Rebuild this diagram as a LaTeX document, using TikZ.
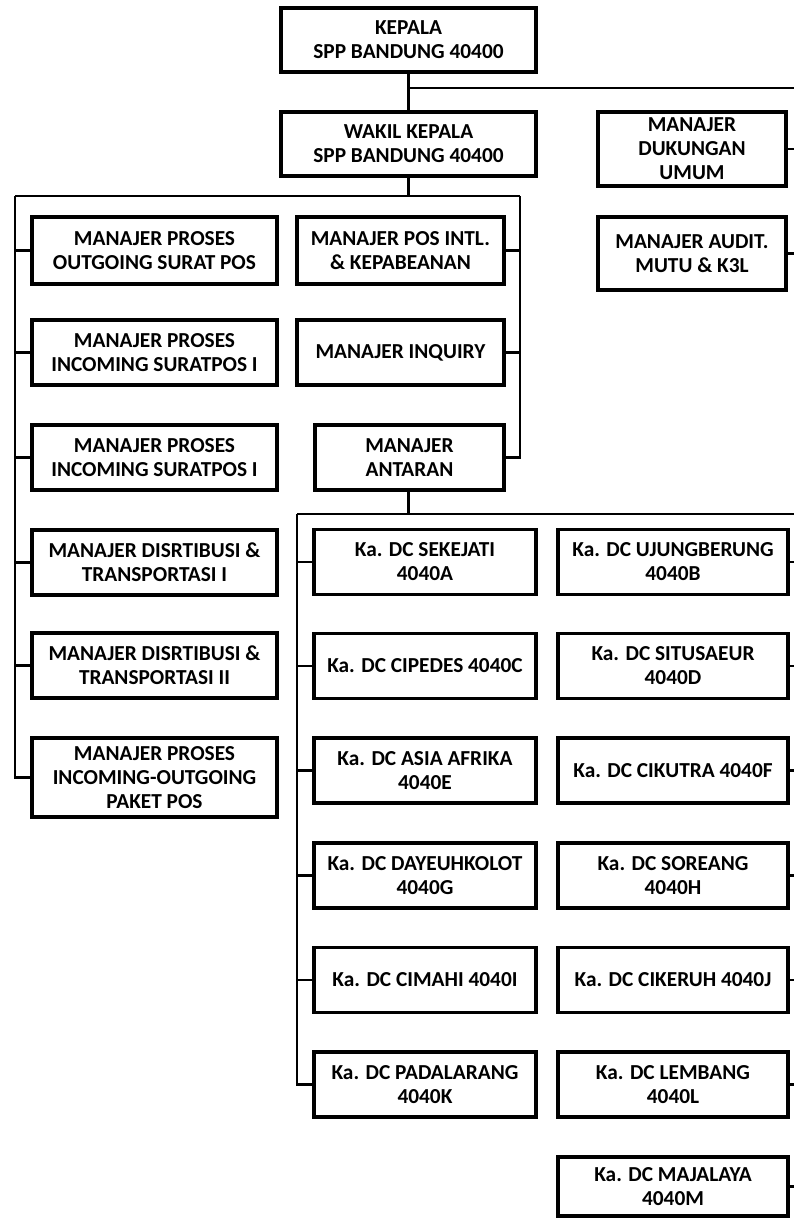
\documentclass[tikz,border=0pt]{standalone}
\usepackage{fontspec}
\setmainfont{Carlito}
\begin{document}
\begin{tikzpicture}[x=0.75pt,y=-0.75pt,
  box/.style={draw=black,line width=2.3pt,fill=white,align=center,inner sep=0pt,
    font=\bfseries\fontsize{16pt}{18pt}\selectfont},
  conn/.style={draw=black,line width=1.6pt}]
\useasboundingbox (0,0) rectangle (794,1218);
% top level
\node[box,minimum width=255*0.75pt,minimum height=64*0.75pt] (kepala) at (408.5,40) {KEPALA\\SPP BANDUNG 40400};
\node[box,minimum width=255*0.75pt,minimum height=64*0.75pt] (wakil) at (408.5,144) {WAKIL KEPALA\\SPP BANDUNG 40400};
\node[box,minimum width=188*0.75pt,minimum height=74*0.75pt] (dukungan) at (692,149) {MANAJER\\DUKUNGAN\\UMUM};
\node[box,minimum width=188*0.75pt,minimum height=73*0.75pt] (audit) at (692,253.5) {MANAJER AUDIT.\\MUTU \& K3L};
% left column
\node[box,minimum width=245*0.75pt,minimum height=67*0.75pt] (l1) at (154.5,250.5) {MANAJER PROSES\\OUTGOING SURAT POS};
\node[box,minimum width=245*0.75pt,minimum height=65*0.75pt] (l2) at (154.5,352.5) {MANAJER PROSES\\INCOMING SURATPOS I};
\node[box,minimum width=245*0.75pt,minimum height=65*0.75pt] (l3) at (154.5,457.5) {MANAJER PROSES\\INCOMING SURATPOS I};
\node[box,minimum width=245*0.75pt,minimum height=65*0.75pt] (l4) at (154.5,562.5) {MANAJER DISRTIBUSI \&\\TRANSPORTASI I};
\node[box,minimum width=245*0.75pt,minimum height=65*0.75pt] (l5) at (154.5,665.5) {MANAJER DISRTIBUSI \&\\TRANSPORTASI II};
\node[box,minimum width=245*0.75pt,minimum height=79*0.75pt] (l6) at (154.5,777.5) {MANAJER PROSES\\INCOMING-OUTGOING\\PAKET POS};
% middle column
\node[box,minimum width=207*0.75pt,minimum height=67*0.75pt] (m1) at (400.5,250.5) {MANAJER POS INTL.\\\& KEPABEANAN};
\node[box,minimum width=207*0.75pt,minimum height=65*0.75pt] (m2) at (400.5,352.5) {MANAJER INQUIRY};
\node[box,minimum width=189*0.75pt,minimum height=65*0.75pt] (m3) at (409.5,457.5) {MANAJER\\ANTARAN};
% DC left
\node[box,minimum width=222*0.75pt,minimum height=65*0.75pt] (dcA) at (425,562) {Ka. DC SEKEJATI\\4040A};
\node[box,minimum width=222*0.75pt,minimum height=65*0.75pt] (dcC) at (425,666) {Ka. DC CIPEDES 4040C};
\node[box,minimum width=222*0.75pt,minimum height=65*0.75pt] (dcE) at (425,770.5) {Ka. DC ASIA AFRIKA\\4040E};
\node[box,minimum width=222*0.75pt,minimum height=65*0.75pt] (dcG) at (425,875.5) {Ka. DC DAYEUHKOLOT\\4040G};
\node[box,minimum width=222*0.75pt,minimum height=65*0.75pt] (dcI) at (425,980) {Ka. DC CIMAHI 4040I};
\node[box,minimum width=222*0.75pt,minimum height=65*0.75pt] (dcK) at (425,1084.5) {Ka. DC PADALARANG\\4040K};
% DC right
\node[box,minimum width=230*0.75pt,minimum height=65*0.75pt] (dcB) at (673,562) {Ka. DC UJUNGBERUNG\\4040B};
\node[box,minimum width=230*0.75pt,minimum height=65*0.75pt] (dcD) at (673,666) {Ka. DC SITUSAEUR\\4040D};
\node[box,minimum width=230*0.75pt,minimum height=65*0.75pt] (dcF) at (673,770.5) {Ka. DC CIKUTRA 4040F};
\node[box,minimum width=230*0.75pt,minimum height=65*0.75pt] (dcH) at (673,875.5) {Ka. DC SOREANG\\4040H};
\node[box,minimum width=230*0.75pt,minimum height=65*0.75pt] (dcJ) at (673,980) {Ka. DC CIKERUH 4040J};
\node[box,minimum width=230*0.75pt,minimum height=65*0.75pt] (dcL) at (673,1084.5) {Ka. DC LEMBANG\\4040L};
\node[box,minimum width=230*0.75pt,minimum height=59*0.75pt] (dcM) at (673,1186.5) {Ka. DC MAJALAYA\\4040M};
% coordinates
\coordinate (kb) at (408.5,88);
\coordinate (kr) at (794,88);
\coordinate (wb) at (408.5,196);
\coordinate (wl) at (15,196);
\coordinate (wr) at (520,196);
\coordinate (ab) at (408.5,514);
\coordinate (al) at (297,514);
\coordinate (ar) at (794,514);
% connectors
\draw[conn] (kepala.south) -- (wakil.north);
\draw[conn] (kb) -- (kr);
\draw[conn] (dukungan.east) -- (794,149);
\draw[conn] (audit.east) -- (794,253.5);
\draw[conn] (wakil.south) -- (wb);
\draw[conn] (wl) -- (wr);
\draw[conn] (wl) |- (l6.west);
\foreach \n in {l1,l2,l3,l4,l5} \draw[conn] (\n.west) -- (15,0 |- \n.west);
\draw[conn] (wr) |- (m3.east);
\foreach \n in {m1,m2} \draw[conn] (\n.east) -- (520,0 |- \n.east);
\draw[conn] (408.5,0 |- m3.south) -- (ab);
\draw[conn] (al) -- (ar);
\draw[conn] (al) |- (dcK.west);
\foreach \n in {dcA,dcC,dcE,dcG,dcI} \draw[conn] (\n.west) -- (297,0 |- \n.west);
\foreach \n in {dcB,dcD,dcF,dcH,dcJ,dcL,dcM} \draw[conn] (\n.east) -- (794,0 |- \n.east);
\end{tikzpicture}
\end{document}
